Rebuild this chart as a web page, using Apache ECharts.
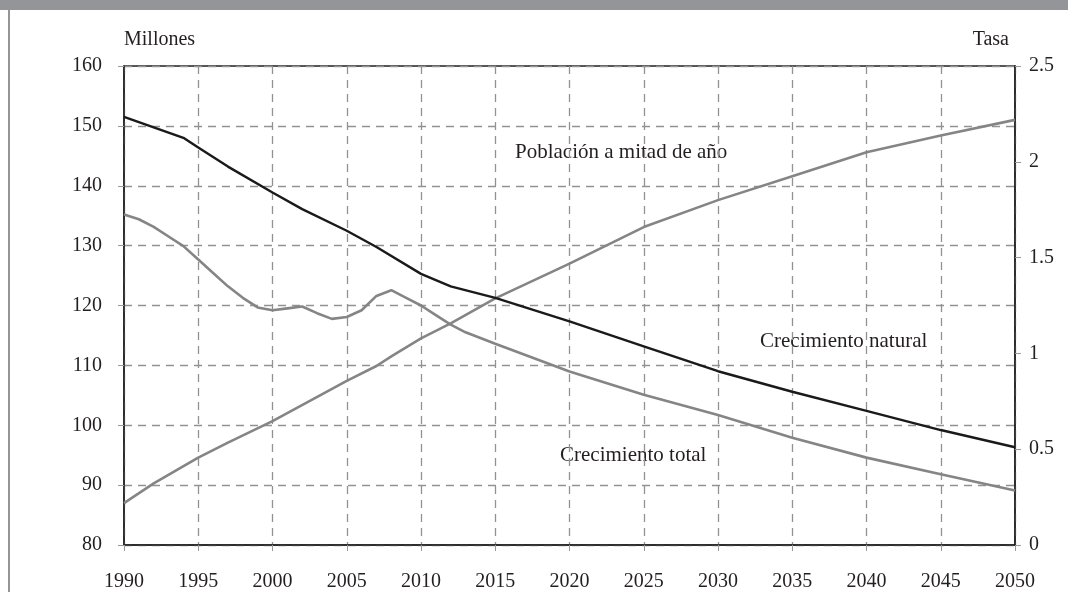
<!DOCTYPE html>
<html>
<head>
<meta charset="utf-8">
<script src="https://cdn.jsdelivr.net/npm/echarts@6/dist/echarts.min.js"></script>
<style>
html,body{margin:0;padding:0;background:#fff;}
#c{width:1068px;height:592px;}
</style>
</head>
<body>
<div id="c"></div>
<script>
// Población a mitad de año (millones, eje izquierdo)
const popYears  = [1990,1992,1995,1997,2000,2005,2007,2008,2009,2010,2012,2015,2020,2025,2030,2035,2040,2045,2050];
const popValues = [87.0,90.3,94.6,97.1,100.7,107.4,109.9,111.5,113.0,114.5,117.0,121.2,127.0,133.1,137.6,141.6,145.6,148.4,151.0];

// Crecimiento natural (tasa, eje derecho)
const natYears  = [1990,1992,1994,1995,1997,2000,2002,2005,2007,2010,2012,2015,2020,2025,2030,2035,2040,2045,2050];
const natValues = [2.234,2.18,2.125,2.075,1.975,1.84,1.753,1.64,1.555,1.415,1.35,1.29,1.167,1.037,0.907,0.80,0.70,0.60,0.51];

// Crecimiento total (tasa, eje derecho)
const totYears  = [1990,1991,1992,1993,1994,1995,1996,1997,1998,1999,2000,2001,2002,2003,2004,2005,2006,2007,2008,2009,2010,2011,2012,2013,2014,2015,2020,2025,2030,2035,2040,2045,2050];
const totValues = [1.725,1.70,1.66,1.61,1.56,1.49,1.42,1.35,1.29,1.24,1.225,1.235,1.245,1.21,1.18,1.19,1.225,1.30,1.33,1.29,1.25,1.20,1.15,1.11,1.08,1.05,0.906,0.784,0.678,0.56,0.456,0.369,0.284];

const xTicks = [1990,1995,2000,2005,2010,2015,2020,2025,2030,2035,2040,2045,2050];
const leftTicks = [80,90,100,110,120,130,140,150,160];
const rightTicks = [0,0.5,1,1.5,2,2.5];

const pair = (xs, ys) => xs.map((x, i) => [x, ys[i]]);

const FONT = "'Liberation Serif', 'DejaVu Serif', serif";
const TXT = '#231f20';

const chart = echarts.init(document.getElementById('c'), null, {renderer: 'canvas'});
chart.setOption({
  animation: false,
  backgroundColor: '#fff',
  textStyle: {fontFamily: FONT, color: TXT},
  grid: {left: 124, right: 53, top: 66, bottom: 44, show: true, borderColor: '#231f20', borderWidth: 1.5, backgroundColor: 'transparent'},
  xAxis: {
    type: 'value',
    min: xTicks[0], max: xTicks[xTicks.length - 1], interval: 5,
    axisLine: {show: true, lineStyle: {color: '#231f20', width: 1.5}},
    axisTick: {show: true, length: 6, lineStyle: {color: '#999'}},
    axisLabel: {margin: 27, fontSize: 20, fontFamily: FONT, color: TXT, formatter: v => String(v)},
    splitLine: {show: true, lineStyle: {color: '#929292', type: [8, 6], width: 1.3}}
  },
  yAxis: [
    {
      type: 'value', position: 'left',
      min: leftTicks[0], max: leftTicks[leftTicks.length - 1], interval: 10,
      name: 'Millones', nameLocation: 'end', nameGap: 16,
      nameTextStyle: {align: 'left', fontSize: 20, fontFamily: FONT, color: TXT},
      axisLine: {show: true, lineStyle: {color: '#231f20', width: 1.5}},
      axisTick: {show: true, length: 6, lineStyle: {color: '#999'}},
      axisLabel: {margin: 22, fontSize: 20, fontFamily: FONT, color: TXT},
      splitLine: {show: true, lineStyle: {color: '#929292', type: [8, 6], width: 1.3}}
    },
    {
      type: 'value', position: 'right',
      min: rightTicks[0], max: rightTicks[rightTicks.length - 1], interval: 0.5,
      name: 'Tasa', nameLocation: 'end', nameGap: 16,
      nameTextStyle: {align: 'right', padding: [0, 6, 0, 0], fontSize: 20, fontFamily: FONT, color: TXT},
      axisLine: {show: true, lineStyle: {color: '#231f20', width: 1.5}},
      axisTick: {show: true, length: 6, lineStyle: {color: '#999'}},
      axisLabel: {margin: 14, fontSize: 20, fontFamily: FONT, color: TXT, formatter: v => String(v)},
      splitLine: {show: false}
    }
  ],
  series: [
    {
      name: 'Población a mitad de año', type: 'line', yAxisIndex: 0,
      data: pair(popYears, popValues), showSymbol: false,
      smooth: false,
      lineStyle: {color: '#858585', width: 2.6}, z: 3
    },
    {
      name: 'Crecimiento total', type: 'line', yAxisIndex: 1,
      data: pair(totYears, totValues), showSymbol: false,
      smooth: false,
      lineStyle: {color: '#858585', width: 2.6}, z: 3
    },
    {
      name: 'Crecimiento natural', type: 'line', yAxisIndex: 1,
      data: pair(natYears, natValues), showSymbol: false,
      smooth: false,
      lineStyle: {color: '#1a1a1a', width: 2.4}, z: 4
    }
  ],
  graphic: [
    {type: 'rect', left: 0, top: 0, shape: {width: 1068, height: 10}, style: {fill: '#939598'}},
    {type: 'rect', left: 8, top: 10, shape: {width: 2, height: 582}, style: {fill: '#939598'}},
    {type: 'text', left: 515, top: 142, style: {text: 'Población a mitad de año', font: "21px " + FONT, fill: TXT}},
    {type: 'text', left: 760, top: 331, style: {text: 'Crecimiento natural', font: "21px " + FONT, fill: TXT}},
    {type: 'text', left: 560, top: 445, style: {text: 'Crecimiento total', font: "21px " + FONT, fill: TXT}}
  ]
});
</script>
</body>
</html>
